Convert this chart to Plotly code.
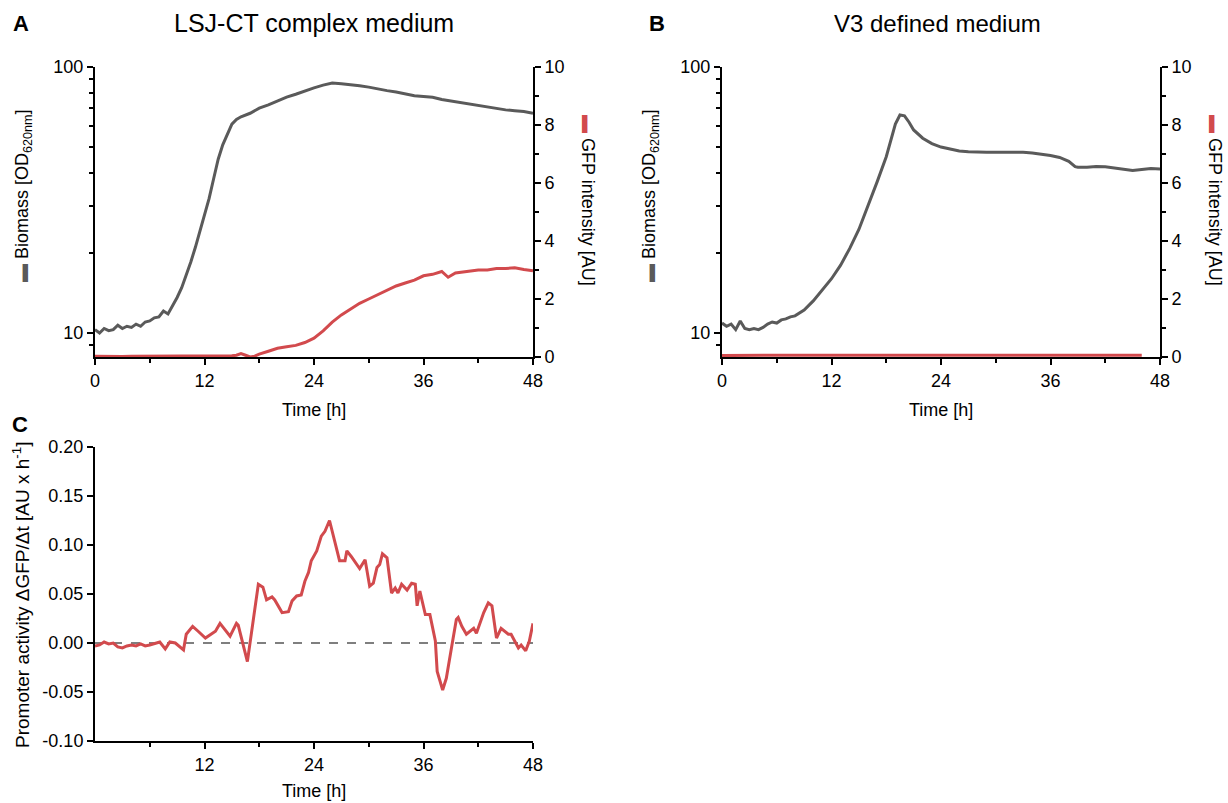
import plotly.graph_objects as go

# ---------------- data ----------------
# Panel A: LSJ-CT complex medium
a_bio_t = [0, 0.5, 1, 1.5, 2, 2.5, 3, 3.5, 4, 4.5, 5, 5.5, 6, 6.5, 7, 7.5, 8, 8.5, 9, 9.5,
           10, 10.5, 11, 11.5, 12, 12.5, 13, 13.5, 14, 14.5, 15, 15.5, 16, 17, 18, 19, 20,
           21, 22, 23, 24, 25, 26, 27, 28, 29, 30, 31, 32, 33, 34, 35, 36, 37, 38, 39, 40,
           41, 42, 43, 44, 45, 46, 47, 48]
a_bio_v = [10.3, 10.0, 10.4, 10.2, 10.3, 10.7, 10.4, 10.6, 10.5, 10.8, 10.6, 11.0, 11.1, 11.4,
           11.5, 12.1, 11.8, 12.6, 13.6, 14.8, 16.5, 18.5, 21.0, 24.0, 27.5, 32.0, 38.0, 45.0,
           51.0, 56.0, 61.0, 63.5, 65.0, 67.0, 70.0, 72.0, 74.5, 77.0, 79.0, 81.5, 83.5, 85.5,
           87.0, 86.5, 86.0, 85.0, 84.0, 82.5, 81.5, 80.5, 79.0, 78.0, 77.5, 77.0, 75.5, 74.5,
           73.5, 72.5, 71.5, 70.5, 69.5, 69.0, 68.5, 68.0, 67.0]

a_gfp_t = [0, 1, 2, 3, 4, 5, 6, 7, 8, 9, 10, 11, 12, 13, 14, 15, 15.5, 16, 16.5, 17, 17.5, 18,
           19, 20, 21, 22, 23, 24, 25, 26, 27, 28, 29, 30, 31, 32, 33, 34, 35, 36, 37, 38,
           38.7, 39.5, 40, 41, 42, 43, 44, 45, 46, 47, 48]
a_gfp_v = [0.03, 0.02, 0.03, 0.02, 0.03, 0.03, 0.04, 0.03, 0.04, 0.03, 0.04, 0.04, 0.05, 0.04,
           0.04, 0.04, 0.06, 0.12, 0.06, 0.0, 0.03, 0.1, 0.2, 0.3, 0.35, 0.4, 0.5, 0.65, 0.9,
           1.2, 1.45, 1.65, 1.85, 2.0, 2.15, 2.3, 2.45, 2.55, 2.65, 2.8, 2.85, 2.95, 2.75, 2.9,
           2.92, 2.97, 3.0, 3.0, 3.05, 3.05, 3.08, 3.02, 2.97]

# Panel B: V3 defined medium
b_bio_t = [0, 0.5, 1, 1.5, 2, 2.5, 3, 3.5, 4, 4.5, 5, 5.5, 6, 6.5, 7, 7.5, 8, 8.5, 9, 10, 11,
           12, 13, 14, 15, 16, 17, 18, 19, 19.5, 20, 20.5, 21, 22, 23, 24, 25, 26, 27, 28, 29,
           30, 31, 32, 33, 34, 35, 36, 37, 38, 38.7, 39, 40, 41, 42, 43, 44, 45, 46, 47, 48]
b_bio_v = [10.9, 10.6, 10.8, 10.3, 11.1, 10.4, 10.3, 10.4, 10.3, 10.5, 10.8, 11.0, 10.9, 11.2,
           11.3, 11.5, 11.6, 11.9, 12.2, 13.2, 14.5, 16.0, 18.0, 20.8, 24.5, 30.0, 37.0, 46.0,
           61.0, 66.0, 65.5, 62.0, 58.0, 54.0, 51.5, 50.0, 49.0, 48.3, 48.0, 47.8, 47.8, 47.8,
           47.8, 48.0, 47.8, 47.5, 47.0, 46.5, 45.7, 44.2, 42.2, 42.0, 42.0, 42.3, 42.2, 41.8,
           41.2, 40.8, 41.2, 41.5, 41.4]

b_gfp_t = [0, 2, 4, 6, 8, 10, 12, 14, 16, 18, 20, 22, 24, 26, 28, 30, 32, 34, 36, 38, 40,
           42, 44, 46]
b_gfp_v = [0.05, 0.06, 0.05, 0.06, 0.06, 0.06, 0.07, 0.06, 0.06, 0.06, 0.07, 0.06, 0.06, 0.05,
           0.05, 0.05, 0.06, 0.06, 0.06, 0.05, 0.05, 0.05, 0.06, 0.06]

# Panel C: promoter activity
c_t = [0, 0.5, 1, 1.5, 2, 2.5, 3, 3.5, 4, 4.5, 5, 5.5, 6.0, 7.1, 7.7, 8.2, 8.8, 9.7, 10.0,
       10.7, 11.3, 12.1, 13.2, 13.7, 14.8, 15.5, 15.7, 16.7, 17.9, 18.4, 18.8, 19.4, 19.7,
       20.5, 21.2, 21.6, 22.1, 22.6, 23.0, 23.4, 23.7, 24.3, 24.8, 25.2, 25.7, 26.3, 26.8,
       27.4, 27.6, 28.1, 29.0, 29.6, 30.1, 30.5, 30.9, 31.2, 31.5, 32.0, 32.5, 32.9, 33.2,
       33.6, 34.2, 34.7, 35.1, 35.3, 35.6, 36.2, 36.7, 37.3, 37.5, 38.1, 38.5, 39.1, 39.6,
       39.8, 40.2, 40.7, 41.5, 41.8, 42.6, 43.1, 43.5, 44.0, 44.5, 45.3, 45.6, 46.4, 46.7,
       47.2, 47.6, 48.0]
c_v = [-0.003, -0.002, 0.001, -0.001, 0.0, -0.004, -0.005, -0.003, -0.002, -0.003, -0.001,
       -0.003, -0.002, 0.001, -0.006, 0.001, 0.0, -0.007, 0.009, 0.017, 0.012, 0.005, 0.012,
       0.020, 0.007, 0.020, 0.018, -0.019, 0.060, 0.057, 0.044, 0.047, 0.044, 0.031, 0.032,
       0.043, 0.048, 0.049, 0.063, 0.072, 0.084, 0.094, 0.109, 0.114, 0.125, 0.104, 0.084,
       0.084, 0.094, 0.088, 0.076, 0.085, 0.058, 0.061, 0.077, 0.080, 0.091, 0.087, 0.051,
       0.056, 0.051, 0.060, 0.054, 0.061, 0.060, 0.038, 0.053, 0.029, 0.029, 0.002, -0.029,
       -0.048, -0.036, -0.003, 0.024, 0.026, 0.017, 0.009, 0.015, 0.010, 0.031, 0.041, 0.038,
       0.005, 0.015, 0.009, 0.009, -0.005, -0.002, -0.008, 0.002, 0.020]

time_ticks = [0, 12, 24, 36, 48]
c_time_ticks = [12, 24, 36, 48]
time_minor = [6, 18, 30, 42]
gfp_ticks = [0, 2, 4, 6, 8, 10]
gfp_minor = [1, 3, 5, 7, 9]
bio_ticks = [10, 100]
bio_minor = [9, 20, 30, 40, 50, 60, 70, 80, 90]
c_ticks = [-0.10, -0.05, 0.00, 0.05, 0.10, 0.15, 0.20]
c_ticktext = ["-0.10", "-0.05", "0.00", "0.05", "0.10", "0.15", "0.20"]

# ---------------- style ----------------
W, H = 1228, 803
GRAY = "#5a5a5a"
RED = "#d24a4d"
FONT = "Liberation Sans, Arial, sans-serif"


def px_x(p):
    return p / W


def px_y(p):
    return 1 - p / H


fig = go.Figure()

fig.add_trace(go.Scatter(x=a_bio_t, y=a_bio_v, mode="lines", xaxis="x", yaxis="y",
                         line=dict(color=GRAY, width=3), showlegend=False))
fig.add_trace(go.Scatter(x=a_gfp_t, y=a_gfp_v, mode="lines", xaxis="x", yaxis="y2",
                         line=dict(color=RED, width=3), showlegend=False))
fig.add_trace(go.Scatter(x=b_bio_t, y=b_bio_v, mode="lines", xaxis="x2", yaxis="y3",
                         line=dict(color=GRAY, width=3), showlegend=False))
fig.add_trace(go.Scatter(x=b_gfp_t, y=b_gfp_v, mode="lines", xaxis="x2", yaxis="y4",
                         line=dict(color=RED, width=3), showlegend=False))
fig.add_trace(go.Scatter(x=c_t, y=c_v, mode="lines", xaxis="x3", yaxis="y5",
                         line=dict(color=RED, width=3), showlegend=False))

axis_common = dict(showgrid=False, zeroline=False, showline=True, linecolor="black",
                   linewidth=2, ticks="outside", ticklen=6, tickwidth=2,
                   tickcolor="black", automargin=False,
                   tickfont=dict(family=FONT, size=18, color="black"))


def minor_ticks(vals):
    return dict(tickmode="array", tickvals=vals, ticks="outside", ticklen=4,
                tickwidth=2, tickcolor="black", showgrid=False)


xA = [px_x(95), px_x(533)]
xB = [px_x(722), px_x(1160)]
yAB = [px_y(357), px_y(67)]
yC = [px_y(741), px_y(447)]

log_range = [0.9098, 2.0]


def time_axis(domain, anchor, ticks):
    return dict(axis_common, domain=domain, anchor=anchor, range=[0, 48],
                tickmode="array", tickvals=ticks, minor=minor_ticks(time_minor))


def bio_axis(domain, anchor):
    return dict(axis_common, domain=domain, anchor=anchor, type="log", range=log_range,
                tickmode="array", tickvals=bio_ticks, minor=minor_ticks(bio_minor))


def gfp_axis(overlay, anchor):
    return dict(axis_common, overlaying=overlay, anchor=anchor, side="right",
                range=[0, 10], tickmode="array", tickvals=gfp_ticks,
                minor=minor_ticks(gfp_minor))


fig.update_layout(
    width=W, height=H,
    margin=dict(l=0, r=0, t=0, b=0, pad=0, autoexpand=False),
    paper_bgcolor="white", plot_bgcolor="white",
    font=dict(family=FONT, size=18, color="black"),
    xaxis=time_axis(xA, "y", time_ticks),
    yaxis=bio_axis(yAB, "x"),
    yaxis2=gfp_axis("y", "x"),
    xaxis2=time_axis(xB, "y3", time_ticks),
    yaxis3=bio_axis(yAB, "x2"),
    yaxis4=gfp_axis("y3", "x2"),
    xaxis3=time_axis(xA, "y5", c_time_ticks),
    yaxis5=dict(axis_common, domain=yC, anchor="x3", range=[-0.10, 0.20],
                tickmode="array", tickvals=c_ticks, ticktext=c_ticktext),
)

# zero reference line in panel C
fig.add_shape(type="line", xref="x3", yref="y5", x0=0, x1=48, y0=0, y1=0,
              line=dict(color="#555555", width=1.5, dash="dash"), layer="below")

ann = []


def add_text(x, y, text, size=18, angle=0):
    ann.append(dict(x=px_x(x), y=px_y(y), xref="paper", yref="paper", text=text,
                    showarrow=False, textangle=angle, xanchor="center", yanchor="middle",
                    font=dict(family=FONT, size=size, color="black")))


add_text(21, 23, "<b>A</b>", size=22)
add_text(657, 23, "<b>B</b>", size=22)
add_text(20, 424, "<b>C</b>", size=22)
add_text(314, 23, "LSJ-CT complex medium", size=25)
add_text(937, 23, "V3 defined medium", size=24)
add_text(314, 410, "Time [h]", size=18)
add_text(941, 410, "Time [h]", size=18)
add_text(314, 791, "Time [h]", size=18)

bio_title = f'<span style="color:{GRAY}">▬</span> Biomass [OD<sub>620nm</sub>]'
gfp_title = f'<span style="color:{RED}">▬</span> GFP intensity [AU]'
add_text(24, 196, bio_title, size=18, angle=-90)
add_text(651, 196, bio_title, size=18, angle=-90)
add_text(588, 200, gfp_title, size=18, angle=90)
add_text(1215, 200, gfp_title, size=18, angle=90)
add_text(21, 595, "Promoter activity ΔGFP/Δt [AU x h<sup>-1</sup>]", size=19, angle=-90)

fig.update_layout(annotations=ann)

fig.write_html("out.html", post_script="document.body.style.margin='0';",
               config={"displayModeBar": False})
